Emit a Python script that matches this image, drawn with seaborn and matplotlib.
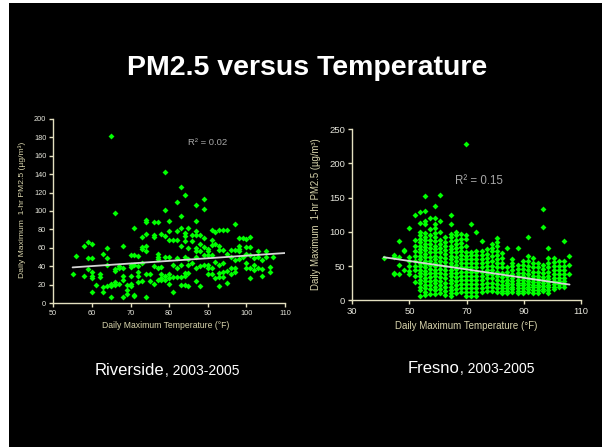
import matplotlib
matplotlib.use("Agg")
import numpy as np
import pandas as pd
import matplotlib.pyplot as plt
from matplotlib.patches import Rectangle
from matplotlib.text import Annotation
import seaborn as sns

# =====================================
# DATA
# =====================================

# Riverside: (daily max temperature F, daily max 1-hr PM2.5)
riverside_obs = [
    (55, 31), (56, 51), (58, 62), (59, 66), (60, 64), (59, 49), (60, 49), (58, 29),
    (59, 37), (60, 34), (60, 29), (60, 27), (60, 12), (61, 20), (62, 32), (62, 28),
    (63, 17), (63, 12), (63, 53), (64, 60), (64, 49), (64, 41), (64, 18), (65, 21),
    (65, 18), (65, 6), (65, 181), (66, 98), (66, 20), (66, 23), (66, 37), (66, 35),
    (67, 21), (67, 38), (67, 40), (68, 62), (68, 38), (68, 29), (68, 25), (68, 6),
    (69, 20), (69, 14), (69, 10), (70, 52), (70, 41), (70, 39), (70, 29), (70, 21),
    (70, 18), (71, 81), (71, 52), (71, 41), (71, 9), (71, 8), (72, 51), (72, 40),
    (72, 34), (72, 29), (72, 23), (73, 72), (73, 61), (73, 59), (73, 44), (73, 24),
    (74, 90), (74, 88), (74, 75), (74, 62), (74, 57), (74, 31), (74, 7), (75, 31),
    (75, 24), (76, 88), (76, 74), (76, 72), (76, 40), (76, 21), (77, 88), (77, 53),
    (77, 50), (77, 48), (77, 38), (77, 25), (78, 75), (78, 39), (78, 31), (78, 27),
    (78, 25), (79, 142), (79, 101), (79, 73), (79, 29), (79, 25),
    (83, 126), (84, 117), (89, 113), (82, 110), (87, 106), (89, 102), (83, 95),
    (80, 89), (87, 89), (97, 86), (80, 78), (82, 78), (85, 82), (83, 82), (84, 76),
    (84, 73), (87, 78), (87, 74), (88, 74), (86, 74), (89, 71), (91, 79), (92, 77),
    (93, 79), (94, 79), (95, 79), (98, 71), (99, 71), (100, 70), (101, 72), (80, 68),
    (81, 68), (82, 68), (84, 67), (86, 67), (83, 62), (85, 60), (87, 60), (88, 64),
    (89, 61), (88, 56), (87, 56), (91, 68), (91, 63), (92, 64), (93, 62), (90, 59),
    (90, 56), (90, 52), (93, 58), (94, 58), (96, 58), (97, 58), (98, 62), (98, 59),
    (98, 56), (100, 61), (101, 61), (103, 56), (105, 57), (79, 50), (80, 50), (82, 49),
    (84, 50), (85, 48), (87, 50), (89, 52), (91, 52), (95, 53), (96, 50), (97, 47),
    (98, 48), (99, 50), (100, 53), (101, 52), (102, 49), (103, 50), (104, 47), (105, 50),
    (107, 50), (80, 27), (80, 31), (81, 41), (82, 38), (81, 28), (82, 28), (83, 28),
    (84, 29), (83, 41), (85, 41), (86, 43), (85, 33), (84, 33), (87, 38), (88, 40),
    (89, 41), (90, 41), (90, 38), (91, 38), (90, 31), (91, 31), (92, 27), (93, 28),
    (94, 28), (93, 33), (94, 34), (95, 35), (96, 38), (97, 38), (96, 32), (97, 34),
    (100, 43), (100, 38), (101, 38), (102, 41), (102, 36), (103, 38), (104, 37),
    (106, 39), (106, 34), (101, 27), (104, 29), (80, 21), (83, 20), (84, 20), (85, 18),
    (87, 24), (88, 18), (81, 12), (93, 18), (95, 22), (92, 45), (93, 41), (94, 43),
]

riverside_fit_temp = [55, 110]
riverside_fit_pm = [38.7, 54.3]

# Fresno: temperatures come in 1.8 F steps, one column of readings per step
fresno_col_temp = [
    41.0, 44.6, 46.4, 48.2, 50.0, 51.8, 53.6, 55.4, 57.2, 59.0, 60.8, 62.6,
    64.4, 66.2, 68.0, 69.8, 71.6, 73.4, 75.2, 77.0, 78.8, 80.6, 82.4, 84.2,
    86.0, 87.8, 89.6, 91.4, 93.2, 95.0, 96.8, 98.6, 100.4, 102.2, 104.0, 105.8,
]
fresno_col_pm = [
    [62],
    [66, 63, 40, 38],
    [87, 63, 52, 39],
    [74, 72, 45],
    [106, 64, 57, 50, 43, 38],
    [124, 88, 80, 72, 65, 58, 50, 44, 36, 27],
    [129, 113, 100, 95, 90, 85, 80, 75, 70, 65, 60, 55, 50, 45, 40, 35, 30, 25, 20, 15, 7],
    [152, 131, 116, 112, 98, 93, 88, 83, 78, 73, 68, 63, 58, 53, 48, 43, 38, 33, 28, 23, 18, 12, 8],
    [120, 104, 95, 88, 82, 76, 70, 64, 58, 52, 46, 40, 34, 28, 22, 16, 9],
    [138, 120, 111, 106, 98, 92, 86, 80, 75, 70, 65, 60, 55, 50, 45, 40, 35, 30, 25, 20, 15, 9],
    [154, 116, 100, 88, 82, 76, 70, 64, 58, 52, 46, 40, 34, 28, 22, 16, 10],
    [92, 85, 80, 74, 68, 62, 56, 50, 44, 38, 32, 26, 20, 14, 8],
    [124, 111, 97, 92, 86, 80, 75, 70, 65, 60, 55, 50, 45, 40, 35, 30, 25, 20, 15, 10, 6],
    [100, 95, 88, 82, 76, 70, 64, 58, 52, 46, 40, 34, 28, 22, 16, 10],
    [97, 90, 84, 78, 72, 66, 60, 54, 48, 42, 36, 30, 24, 18, 12],
    [228, 95, 90, 80, 70, 65, 60, 54, 48, 42, 36, 30, 24, 18, 12, 6],
    [112, 70, 66, 60, 54, 48, 42, 36, 30, 24, 18, 12, 6],
    [100, 72, 66, 60, 54, 48, 42, 36, 30, 24, 18, 12, 7],
    [86, 72, 66, 60, 54, 48, 42, 36, 30, 24, 18, 12],
    [75, 68, 62, 56, 50, 44, 38, 32, 26, 20, 14],
    [83, 76, 72, 65, 58, 50, 44, 38, 32, 26, 20, 14],
    [91, 85, 79, 72, 66, 60, 54, 48, 42, 36, 30, 24, 18, 12],
    [69, 62, 55, 48, 40, 34, 28, 22, 18, 14, 10],
    [77, 48, 42, 36, 30, 26, 22, 18, 14, 10],
    [60, 55, 50, 44, 38, 32, 28, 24, 20, 16, 12],
    [76, 52, 46, 40, 35, 30, 26, 22, 18, 14, 10],
    [58, 52, 46, 40, 35, 30, 26, 22, 18, 14, 10],
    [92, 65, 58, 50, 44, 38, 33, 28, 24, 20, 16, 12],
    [62, 55, 48, 42, 36, 31, 27, 23, 19, 15, 11],
    [54, 48, 42, 36, 31, 27, 23, 19, 15, 11],
    [134, 107, 52, 46, 40, 34, 29, 25, 21, 17, 13],
    [77, 62, 55, 48, 42, 36, 31, 27, 23, 19, 15, 10],
    [62, 56, 50, 44, 38, 33, 28, 24, 20, 16],
    [57, 50, 44, 38, 33, 28, 24, 20],
    [86, 58, 50, 44, 38, 33, 28, 24, 20],
    [65, 52, 38],
]

fresno_fit_temp = [41, 106]
fresno_fit_pm = [63, 23]

# =====================================
# STYLE
# =====================================

GREEN = "#00ff00"
FIT = "#d4d4d4"
SPINE = "#e4e0c0"
LABEL = "#d8d4ac"
TICKTXT = "#e6e6dc"
RTXT = "#a8a8a8"

sns.set_style("dark", {"axes.facecolor": "black", "figure.facecolor": "white"})
plt.rcParams["font.family"] = ["Liberation Sans", "DejaVu Sans"]

riv = pd.DataFrame(riverside_obs, columns=["temp", "pm"])
fre = pd.DataFrame(
    [(t, p) for t, col in zip(fresno_col_temp, fresno_col_pm) for p in col],
    columns=["temp", "pm"],
)

fig = plt.figure(figsize=(6.02, 4.47), dpi=100)
# slide background (thin white strip on the left and top edge)
fig.patches.append(Rectangle((9 / 602, 0), 1 - 9 / 602, 444 / 447,
                             transform=fig.transFigure, facecolor="black",
                             edgecolor="none", zorder=-5))

ax1 = fig.add_axes([0.0885, 0.3221, 0.3849, 0.4119])
ax2 = fig.add_axes([0.5852, 0.3282, 0.3799, 0.3826])


def style_axis(ax, tick_size, xticks, yticks):
    ax.set_facecolor("black")
    for side in ["top", "right"]:
        ax.spines[side].set_visible(False)
    for side in ["left", "bottom"]:
        ax.spines[side].set_visible(True)
        ax.spines[side].set_color(SPINE)
        ax.spines[side].set_linewidth(1.0)
    ax.set_xticks(xticks)
    ax.set_yticks(yticks)
    ax.tick_params(direction="out", length=3, width=1, color=SPINE,
                   labelcolor=TICKTXT, labelsize=tick_size, pad=2,
                   bottom=True, left=True)
    ax.grid(False)


# ---- Riverside ----
sns.scatterplot(data=riv, x="temp", y="pm", ax=ax1, color=GREEN, marker="D",
                s=9, linewidth=0, zorder=3)
sns.lineplot(x=riverside_fit_temp, y=riverside_fit_pm, ax=ax1, color=FIT,
             linewidth=1.3, zorder=4)
ax1.set_xlim(50, 110)
ax1.set_ylim(0, 200)
style_axis(ax1, 5.3, range(50, 111, 10), range(0, 201, 20))
ax1.set_xlabel("Daily Maximum Temperature (°F)", fontsize=6.2, color=LABEL)
ax1.set_ylabel("Daily Maximum  1-hr PM2.5 (µg/m³)", fontsize=6.1, color=LABEL)
ax1.xaxis.set_label_coords(0.484, -0.098)
ax1.yaxis.set_label_coords(-0.119, 0.505)
ax1.text(90, 174, "R² = 0.02", fontsize=6.8, color=RTXT, ha="center", va="center")

# ---- Fresno ----
sns.scatterplot(data=fre, x="temp", y="pm", ax=ax2, color=GREEN, marker="D",
                s=9, linewidth=0, zorder=3)
sns.lineplot(x=fresno_fit_temp, y=fresno_fit_pm, ax=ax2, color=FIT,
             linewidth=1.3, zorder=4)
ax2.set_xlim(30, 110)
ax2.set_ylim(0, 250)
style_axis(ax2, 6.8, range(30, 111, 20), range(0, 251, 50))
ax2.set_xlabel("Daily Maximum Temperature (°F)", fontsize=7, color=LABEL)
ax2.set_ylabel("Daily Maximum  1-hr PM2.5 (µg/m³)", fontsize=6.9, color=LABEL)
ax2.xaxis.set_label_coords(0.499, -0.121)
ax2.yaxis.set_label_coords(-0.137, 0.505)
ax2.text(74.3, 174, "R² = 0.15", fontsize=8.3, color=RTXT, ha="center", va="center")

# ---- slide texts ----
fig.text(307 / 602, 1 - 75 / 447, "PM2.5 versus Temperature", ha="center",
         va="baseline", fontsize=20.5, fontweight="bold", color="white")

t1 = fig.text(95 / 602, 1 - 375 / 447, "Riverside", ha="left", va="baseline",
              fontsize=12, color="white")
fig.add_artist(Annotation(", 2003-2005", xy=(1, 0), xycoords=t1,
                          ha="left", va="bottom", fontsize=10, color="white"))

t2 = fig.text(407.7 / 602, 1 - 372.7 / 447, "Fresno", ha="left", va="baseline",
              fontsize=12, color="white")
fig.add_artist(Annotation(", 2003-2005", xy=(1, 0), xycoords=t2,
                          ha="left", va="bottom", fontsize=10, color="white"))

fig.savefig("out.png", dpi=100, facecolor=fig.get_facecolor())
